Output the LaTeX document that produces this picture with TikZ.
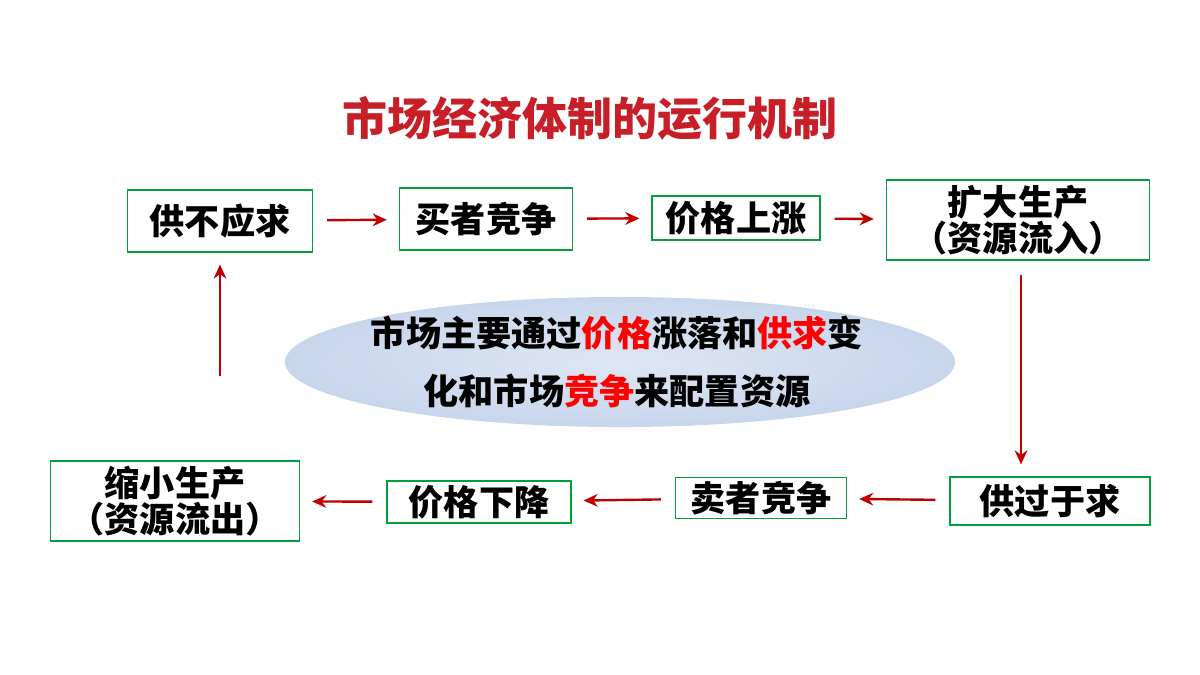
\documentclass[tikz,border=0pt]{standalone}
\usepackage{fontspec}
\newfontfamily\cjk{Noto Sans CJK SC}
\usetikzlibrary{positioning, arrows.meta, shapes.geometric}
\definecolor{boxgreen}{RGB}{0,160,60}
\definecolor{arrowred}{RGB}{192,0,0}
\definecolor{titlered}{RGB}{200,30,40}
\definecolor{ellblue}{RGB}{200,214,236}
\tikzstyle{stage} = [rectangle, draw=boxgreen, line width=0.8pt, fill=white, align=center, font=\cjk\bfseries\fontsize{25}{26}\selectfont, inner sep=0pt]
\tikzstyle{arrow} = [draw=arrowred, line width=1.7pt, -{Stealth[length=10pt,width=9pt]}, shorten <=0.35cm, shorten >=0.3cm]

\begin{document}
\begin{tikzpicture}[x=0.025cm, y=-0.025cm]
        \useasboundingbox (0,0) rectangle (1200,675);
        \node (title) [text=titlered, font=\cjk\bfseries\fontsize{32}{34}\selectfont] at (590,118) {市场经济体制的运行机制};

        \node (core) [ellipse, inner sep=0pt, minimum width=16.75cm, minimum height=3.25cm, inner color=ellblue!60, outer color=ellblue] at (620,362) {};
        \node [font=\cjk\bfseries\fontsize{25}{28}\selectfont, align=center] at (617,362)
            {市场主要通过{\color{red}价格}涨落和{\color{red}供求}变\\[0.45cm]化和市场{\color{red}竞争}来配置资源};

        \node (shortage) [stage, minimum width=4.63cm, minimum height=1.55cm] at (220,221) {供不应求};
        \node (buyers)   [stage, minimum width=4.33cm, minimum height=1.55cm] at (486,219) {买者竞争};
        \node (rise)     [stage, minimum width=4.2cm, minimum height=1.1cm] at (736,218) {价格上涨};
        \node (expand)   [stage, minimum width=6.58cm, minimum height=2cm] at (1018,220) {扩大生产\\（资源流入）};
        \node (surplus)  [stage, minimum width=5cm, minimum height=1.2cm] at (1050,501) {供过于求};
        \node (sellers)  [stage, minimum width=4.28cm, minimum height=1.03cm] at (761,498) {卖者竞争};
        \node (fall)     [stage, minimum width=4.6cm, minimum height=1.05cm] at (479,502) {价格下降};
        \node (shrink)   [stage, minimum width=6.23cm, minimum height=2cm] at (175,501) {缩小生产\\（资源流出）};

        \draw [arrow] (shortage) -- (buyers);
        \draw [arrow] (buyers) -- (rise);
        \draw [arrow] (rise) -- (expand);
        \draw [arrow] (expand.south -| 1021,0) -- (surplus.north -| 1021,0);
        \draw [arrow] (surplus) -- (sellers);
        \draw [arrow] (sellers) -- (fall);
        \draw [arrow] (fall) -- (shrink);
        \draw [arrow, shorten <=2.1cm] (shrink.north -| shortage) -- (shortage);
\end{tikzpicture}
\end{document}
